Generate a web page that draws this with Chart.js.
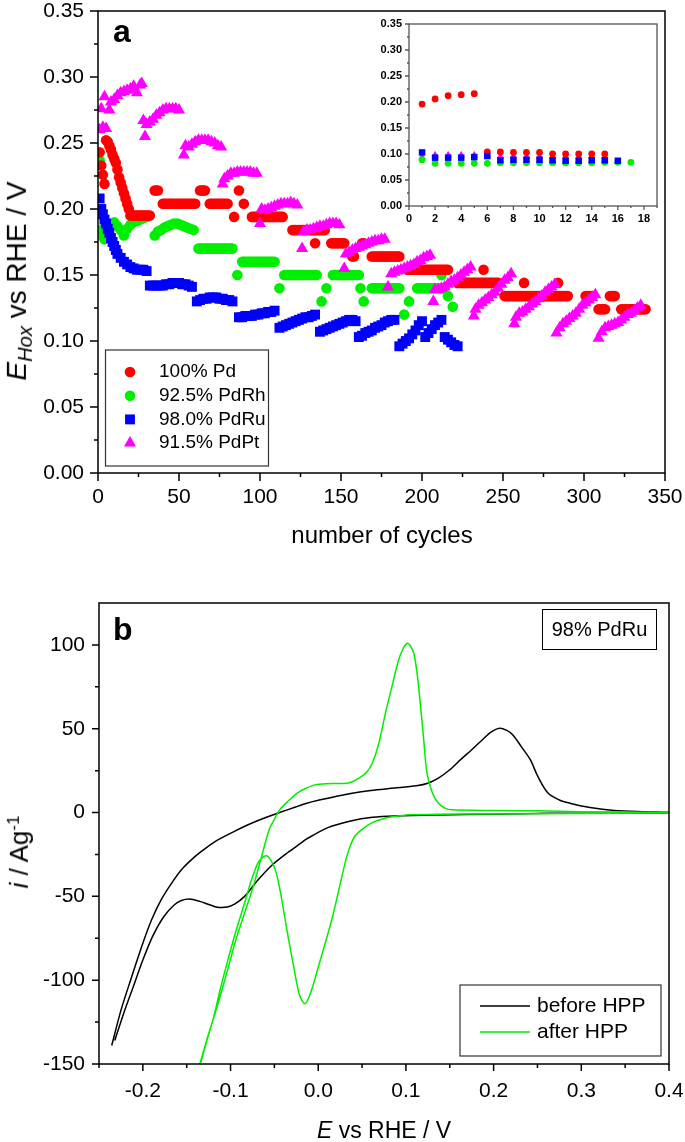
<!DOCTYPE html>
<html>
<head>
<meta charset="utf-8">
<script src="https://cdn.jsdelivr.net/npm/chart.js@4.4.1/dist/chart.umd.min.js"></script>
<style>
  body { margin: 0; background: #fff; }
  #page { position: relative; width: 685px; height: 1142px; overflow: hidden;
          font-family: 'Liberation Sans', Arial, sans-serif; color: #000; }
  canvas { position: absolute; }
  .txt { position: absolute; white-space: nowrap; line-height: 1; }
  .rot { transform: translate(-50%, -50%) rotate(-90deg); }
  .rot sub { font-size: 0.72em; vertical-align: -0.3em; }
  .rot sup { font-size: 0.65em; vertical-align: 0.55em; }
  #tag { position: absolute; left: 542px; top: 609px; width: 115px; height: 41px; box-sizing: border-box;
         border: 1.5px solid #000; font-size: 20px; display: flex; align-items: center; justify-content: center; }
</style>
</head>
<body>
<div id="page">
  <canvas id="cycles" width="685" height="560" style="left:0;top:0"></canvas>
  <canvas id="inset" width="305" height="224" style="left:360px;top:8px"></canvas>
  <canvas id="cv" width="685" height="582" style="left:0;top:560px"></canvas>

  <div class="txt" style="left:113px;top:15px;font-weight:bold;font-size:32px">a</div>
  <div class="txt" style="left:113px;top:613px;font-weight:bold;font-size:32px">b</div>
  <div class="txt rot" style="left:19px;top:281px;font-size:28px"><i>E</i><sub><i>Hox</i></sub> vs RHE / V</div>
  <div class="txt" style="left:382px;top:535px;font-size:24px;transform:translate(-50%,-50%)">number of cycles</div>
  <div class="txt rot" style="left:19px;top:852px;font-size:26px"><i>i</i> / Ag<sup>-1</sup></div>
  <div class="txt" style="left:384px;top:1130px;font-size:23px;transform:translate(-50%,-50%)"><i>E</i> vs RHE / V</div>
  <div id="tag">98% PdRu</div>
</div>

<script>
/* ---- panel a : cycles, [first cycle, last cycle, E] plateaus ---- */
const pdRuns = [
  [1,1,0.243],[2,2,0.233],[3,3,0.226],[4,4,0.219],
  [5,5,0.252],[6,6,0.251],[7,7,0.248],[8,8,0.245],[9,9,0.241],[10,10,0.238],[11,11,0.235],
  [12,12,0.230],[13,13,0.224],[14,14,0.220],[15,15,0.216],[16,16,0.212],[17,17,0.208],
  [18,18,0.204],[19,19,0.200],
  [20,32,0.195],[35,37,0.214],[40,60,0.204],[63,66,0.214],[69,80,0.204],[84,84,0.194],
  [87,87,0.214],[90,90,0.204],[95,114,0.194],[120,140,0.184],[134,134,0.174],[144,152,0.174],
  [157,158,0.164],[163,164,0.174],[169,186,0.164],[191,216,0.154],[222,247,0.144],
  [238,238,0.154],[251,290,0.134],[263,263,0.144],[284,284,0.144],[301,305,0.134],
  [309,313,0.124],[316,319,0.134],[323,338,0.124]
];
const rhRuns = [
  [1,1,0.237],[2,2,0.184],[3,3,0.179],[4,4,0.177],[6,6,0.182],[8,8,0.188],[10,10,0.190],
  [12,12,0.187],[14,14,0.184],[16,16,0.180],[18,18,0.185],[20,20,0.188],[22,22,0.190],
  [24,24,0.191],[26,26,0.192],[28,28,0.193],[30,30,0.194],
  [35,35,0.180],[37,37,0.183],[39,39,0.184],[41,41,0.186],[43,43,0.187],[45,45,0.188],
  [47,47,0.189],[49,49,0.189],[51,51,0.188],[53,53,0.187],[55,55,0.186],[57,57,0.185],[59,59,0.184],
  [62,83,0.170],[86,86,0.150],[89,109,0.160],[112,112,0.140],[115,135,0.150],[138,138,0.130],
  [141,141,0.140],[145,161,0.150],[162,162,0.140],[164,164,0.130],[169,186,0.140],
  [189,189,0.120],[192,192,0.130],[197,213,0.140],[212,212,0.150],[216,216,0.134],[219,219,0.126]
];
/* [cycle, E] */
const ruPoints = [
  [1,0.208],[2,0.200],[3,0.196],[4,0.192],[5,0.189],[6,0.185],[7,0.182],[8,0.178],[9,0.175],
  [10,0.172],[11,0.169],[12,0.166],[14,0.163],[16,0.160],[18,0.158],[20,0.156],[22,0.155],
  [24,0.154],[26,0.154],[28,0.154],[30,0.153],
  [32,0.142],[34,0.142],[36,0.142],[38,0.142],[40,0.142],[42,0.143],[44,0.143],[46,0.144],
  [48,0.144],[50,0.144],[52,0.143],[54,0.143],[56,0.142],[58,0.141],
  [61,0.130],[63,0.131],[65,0.132],[67,0.132],[69,0.133],[71,0.133],[73,0.133],[75,0.132],
  [77,0.132],[79,0.131],[81,0.131],[83,0.130],
  [87,0.118],[89,0.118],[91,0.119],[93,0.119],[95,0.119],[97,0.120],[99,0.120],[101,0.121],
  [103,0.121],[105,0.122],[107,0.122],[109,0.123],
  [112,0.110],[114,0.111],[116,0.112],[118,0.113],[120,0.114],[122,0.115],[124,0.116],
  [126,0.117],[128,0.118],[130,0.118],[132,0.119],[134,0.120],
  [137,0.107],[139,0.108],[141,0.109],[143,0.110],[145,0.111],[147,0.112],[149,0.113],
  [151,0.114],[153,0.115],[155,0.116],[157,0.116],[159,0.115],
  [161,0.103],[163,0.104],[165,0.106],[167,0.107],[169,0.108],[171,0.110],[173,0.111],
  [175,0.112],[177,0.114],[179,0.115],[181,0.116],[183,0.116],
  [186,0.096],[188,0.098],[190,0.100],[192,0.102],[194,0.105],[196,0.108],[198,0.112],[200,0.115],
  [202,0.103],[204,0.106],[206,0.109],[208,0.112],[210,0.114],[212,0.116],
  [214,0.103],[216,0.101],[218,0.099],[220,0.097],[222,0.096]
];
const ptPoints = [
  [1,0.260],[2,0.276],[3,0.262],[4,0.285],[5,0.261],[7,0.275],[8,0.281],[10,0.283],[12,0.286],
  [14,0.288],[16,0.289],[18,0.290],[20,0.291],[22,0.293],[24,0.288],[26,0.294],[27,0.295],
  [28,0.267],[29,0.255],[30,0.264],[32,0.266],[34,0.268],[36,0.271],[38,0.273],[40,0.275],
  [42,0.276],[44,0.276],[46,0.276],[48,0.276],[50,0.275],
  [53,0.241],[54,0.248],[56,0.247],[58,0.249],[60,0.251],[62,0.252],[64,0.252],[66,0.252],
  [68,0.252],[70,0.251],[72,0.250],[74,0.248],[76,0.247],
  [77,0.219],[78,0.223],[80,0.225],[82,0.227],[84,0.227],[86,0.228],[88,0.228],[90,0.228],
  [92,0.228],[94,0.228],[96,0.227],[98,0.227],
  [100,0.189],[101,0.200],[103,0.199],[105,0.200],[107,0.201],[109,0.202],[111,0.203],
  [113,0.204],[115,0.204],[117,0.204],[119,0.205],[121,0.204],[123,0.203],
  [126,0.170],[127,0.183],[129,0.184],[131,0.184],[133,0.185],[135,0.186],[137,0.187],
  [139,0.187],[141,0.188],[143,0.189],[145,0.189],[147,0.189],[149,0.188],
  [152,0.155],[153,0.166],[155,0.167],[157,0.169],[159,0.170],[161,0.171],[163,0.172],
  [165,0.173],[167,0.174],[169,0.175],[171,0.176],[173,0.176],[175,0.177],[177,0.177],
  [179,0.141],[181,0.151],[183,0.152],[185,0.153],[187,0.154],[189,0.155],[191,0.156],
  [193,0.157],[195,0.158],[197,0.160],[199,0.161],[201,0.163],[203,0.164],[205,0.165],
  [207,0.130],[208,0.139],[210,0.139],[212,0.140],[214,0.141],[216,0.143],[218,0.145],
  [220,0.146],[222,0.148],[224,0.150],[226,0.152],[228,0.154],[230,0.156],
  [232,0.119],[233,0.124],[235,0.127],[237,0.129],[239,0.131],[241,0.133],[243,0.135],
  [245,0.137],[247,0.140],[249,0.143],[251,0.146],[253,0.148],[255,0.151],
  [257,0.113],[258,0.118],[260,0.121],[262,0.122],[264,0.124],[266,0.126],[268,0.128],
  [270,0.130],[272,0.132],[274,0.134],[276,0.137],[278,0.139],[280,0.141],[282,0.143],
  [283,0.106],[285,0.110],[287,0.113],[289,0.115],[291,0.117],[293,0.119],[295,0.121],
  [297,0.124],[299,0.127],[301,0.129],[303,0.131],[305,0.133],[307,0.135],
  [309,0.102],[311,0.107],[313,0.110],[315,0.111],[317,0.112],[319,0.113],[321,0.114],
  [323,0.116],[325,0.118],[327,0.120],[329,0.121],[331,0.123],[333,0.125],[335,0.127]
];
const seriesLabels = ['100% Pd', '92.5% PdRh', '98.0% PdRu', '91.5% PdPt'];

/* inset: one value per cycle starting at cycle 1 */
const insetPd = [0.196,0.206,0.212,0.214,0.216,0.104,0.104,0.103,0.103,0.103,0.100,0.100,0.100,0.100,0.100];
const insetRh = [0.089,0.082,0.082,0.082,0.082,0.082,0.083,0.083,0.083,0.083,0.083,0.083,0.083,0.083,0.084,0.084,0.084];
const insetRu = [0.103,0.093,0.093,0.093,0.094,0.096,0.088,0.089,0.089,0.089,0.088,0.087,0.087,0.088,0.088,0.087];
const insetPt = [0.094,0.098,0.098,0.098,0.098,0.097,0.095,0.095,0.095,0.095,0.095,0.095,0.095,0.095,0.095];

/* ---- panel b : cyclic voltammograms, [E / V, i / A g-1] ---- */
const beforeHPP = [
  [-0.2355,-139],[-0.225,-118],[-0.214,-100],[-0.2,-78],[-0.19,-64],[-0.179,-52],[-0.165,-40.5],
  [-0.154,-33],[-0.14,-26],[-0.129,-21.5],[-0.114,-16.2],[-0.094,-10.8],[-0.08,-7.3],[-0.065,-4],
  [-0.044,0],[-0.025,3.5],[-0.014,5.4],[0.0,7.3],[0.02,9.6],[0.037,11.4],[0.06,13.2],[0.087,14.6],
  [0.112,16],[0.125,17.5],[0.137,20.5],[0.15,25.5],[0.162,31.4],[0.175,37.5],[0.187,43.3],
  [0.197,48],[0.207,50.3],[0.215,49],[0.222,46.3],[0.232,39],[0.242,31.4],[0.25,22],[0.262,11.6],
  [0.275,7.5],[0.287,5.6],[0.31,3],[0.3375,1.2],[0.37,0.5],[0.4,0.2],
  [0.4,-0.2],[0.3,-0.4],[0.262,-0.4],[0.2,-1],[0.137,-1.4],[0.087,-2],[0.062,-2.8],[0.037,-5],
  [0.011,-9],[-0.014,-16],[-0.019,-18],[-0.035,-24],[-0.054,-32],[-0.07,-41],[-0.084,-50],
  [-0.095,-54.5],[-0.104,-56.4],[-0.115,-56.5],[-0.124,-55],[-0.135,-53],[-0.147,-51.6],
  [-0.156,-52.5],[-0.164,-55],[-0.176,-62],[-0.189,-74],[-0.2,-88],[-0.211,-104],[-0.222,-120],
  [-0.232,-136]
];
const afterHPP = [
  [-0.135,-150],[-0.125,-132],[-0.114,-113.6],[-0.104,-95],[-0.094,-76],[-0.084,-60],[-0.074,-44],
  [-0.065,-27],[-0.056,-10.3],[-0.05,-4],[-0.044,1.6],[-0.034,7],[-0.024,11.6],[-0.014,14.5],
  [-0.004,16.5],[0.01,17.2],[0.026,17.3],[0.036,17.8],[0.0465,20.5],[0.055,24],[0.0616,29.4],
  [0.069,41],[0.0766,59.2],[0.084,75],[0.0917,91],[0.097,98],[0.1017,101],[0.105,99.5],
  [0.109,95],[0.113,82],[0.1167,63.2],[0.12,45],[0.124,23.5],[0.13,12],[0.137,5.6],[0.145,2.5],
  [0.152,1.6],[0.2,1.2],[0.25,1],[0.3,0.5],[0.4,0],
  [0.4,-0.2],[0.3,-0.5],[0.2,-0.8],[0.137,-1],[0.1,-1.5],[0.087,-2.4],[0.075,-3.5],[0.0616,-6],
  [0.05,-10],[0.0415,-14.3],[0.0365,-20],[0.0315,-28.2],[0.024,-45],[0.0164,-62],[0.009,-76],
  [0.0014,-89.8],[-0.0087,-107.6],[-0.0152,-114],[-0.0213,-109],[-0.0287,-89.8],[-0.034,-75],
  [-0.039,-60],[-0.044,-45],[-0.0489,-34.2],[-0.054,-28.5],[-0.0589,-25.8],[-0.064,-27],
  [-0.0689,-30.2],[-0.076,-40],[-0.084,-54],[-0.094,-71],[-0.104,-89.8],[-0.112,-106],
  [-0.119,-121.6],[-0.127,-136],[-0.134,-149.4]
];
const cvLabels = ['before HPP', 'after HPP'];

/* ---- tick values ---- */
const cycleTicks = [0, 50, 100, 150, 200, 250, 300, 350];
const cycleMinor = [25, 75, 125, 175, 225, 275, 325];
const eTicks = [0, 0.05, 0.10, 0.15, 0.20, 0.25, 0.30, 0.35];
const eMinor = [0.025, 0.075, 0.125, 0.175, 0.225, 0.275, 0.325];
const insetXTicks = [0, 2, 4, 6, 8, 10, 12, 14, 16, 18];
const insetXMinor = [1, 3, 5, 7, 9, 11, 13, 15, 17, 19];
const cvXTicks = [-0.2, -0.1, 0.0, 0.1, 0.2, 0.3, 0.4];
const cvXMinor = [-0.25, -0.15, -0.05, 0.05, 0.15, 0.25, 0.35];
const cvYTicks = [-150, -100, -50, 0, 50, 100];
const cvYMinor = [-125, -75, -25, 25, 75];

const FONT = "'Liberation Sans', Arial, sans-serif";
Chart.defaults.font.family = FONT;
Chart.defaults.color = '#000';

const runPoints = runs => runs.flatMap(([a, b, e]) => {
  const pts = [];
  for (let c = a; c <= b; c++) pts.push({ x: c, y: e });
  return pts;
});
const pairPoints = list => list.map(([x, y]) => ({ x, y }));
const seqPoints = vals => vals.map((y, k) => ({ x: k + 1, y }));

function drawMarker(ctx, style, x, y, r) {
  ctx.beginPath();
  if (style === 'rect') {
    const s = Math.SQRT1_2 * r;
    ctx.rect(x - s, y - s, 2 * s, 2 * s);
  } else if (style === 'triangle') {
    ctx.moveTo(x, y - r);
    ctx.lineTo(x + r * 0.866, y + r * 0.5);
    ctx.lineTo(x - r * 0.866, y + r * 0.5);
    ctx.closePath();
  } else {
    ctx.arc(x, y, r, 0, Math.PI * 2);
  }
  ctx.fill();
}

/* frame box + outward major/minor ticks */
const framePlugin = {
  id: 'frame',
  afterDraw(chart, args, o) {
    const { ctx, chartArea: a, scales } = chart;
    ctx.save();
    ctx.strokeStyle = o.color;
    ctx.lineWidth = o.width;
    ctx.strokeRect(a.left, a.top, a.right - a.left, a.bottom - a.top);
    ctx.beginPath();
    const xt = (vals, len) => vals.forEach(v => {
      const px = scales.x.getPixelForValue(v);
      ctx.moveTo(px, a.bottom); ctx.lineTo(px, a.bottom + len);
    });
    const yt = (vals, len) => vals.forEach(v => {
      const py = scales.y.getPixelForValue(v);
      ctx.moveTo(a.left, py); ctx.lineTo(a.left - len, py);
    });
    xt(o.xMajor, o.major); xt(o.xMinor, o.minor);
    yt(o.yMajor, o.major); yt(o.yMinor, o.minor);
    ctx.stroke();
    ctx.restore();
  }
};

/* boxed legend placed inside the plot */
const boxLegend = {
  id: 'boxLegend',
  afterDraw(chart, args, o) {
    if (!o.x) return;
    const ctx = chart.ctx;
    const items = chart.data.datasets.slice().sort((p, q) => p.legendRank - q.legendRank);
    ctx.save();
    ctx.strokeStyle = o.border;
    ctx.lineWidth = o.borderWidth;
    ctx.strokeRect(o.x, o.y, o.w, o.h);
    ctx.font = o.font;
    ctx.textBaseline = 'middle';
    items.forEach((ds, k) => {
      const cy = o.row + k * o.gap;
      if (ds.showLine) {
        ctx.strokeStyle = ds.borderColor;
        ctx.lineWidth = 1.5;
        ctx.beginPath();
        ctx.moveTo(o.markX - 25, cy); ctx.lineTo(o.markX + 25, cy);
        ctx.stroke();
      } else {
        ctx.fillStyle = ds.backgroundColor;
        drawMarker(ctx, ds.pointStyle, o.markX, cy, ds.pointRadius);
      }
      ctx.fillStyle = '#000';
      ctx.fillText(ds.label, o.textX, cy);
    });
    ctx.restore();
  }
};

function axis(min, max, ticks, fmt, size, pad, fixed, bold) {
  return {
    type: 'linear', min, max,
    grid: { display: false, drawTicks: false },
    border: { display: false },
    afterBuildTicks: s => { s.ticks = ticks.map(v => ({ value: v })); },
    afterFit: s => {
      if (s.isHorizontal()) { s.height = fixed; s.paddingLeft = 0; s.paddingRight = 0; }
      else { s.width = fixed; s.paddingTop = 0; s.paddingBottom = 0; }
    },
    ticks: { padding: pad, autoSkip: false, maxRotation: 0, color: '#000',
             font: { size, weight: bold ? 'bold' : 'normal' }, callback: v => fmt(v) }
  };
}

const scatterSet = (label, data, color, style, r, rank) => ({
  label, data, pointStyle: style, pointRadius: r, pointHoverRadius: r,
  backgroundColor: color, borderWidth: 0, legendRank: rank
});

/* ---- panel a ---- */
new Chart(document.getElementById('cycles'), {
  type: 'scatter',
  data: {
    datasets: [
      scatterSet(seriesLabels[3], pairPoints(ptPoints), '#ff00ff', 'triangle', 7, 3),
      scatterSet(seriesLabels[2], pairPoints(ruPoints), '#0000ff', 'rect', 7, 2),
      scatterSet(seriesLabels[0], runPoints(pdRuns), '#ff0000', 'circle', 5.3, 0),
      scatterSet(seriesLabels[1], runPoints(rhRuns), '#00ee00', 'circle', 5.3, 1)
    ]
  },
  options: {
    responsive: false, animation: false, devicePixelRatio: 1,
    layout: { padding: { top: 11, right: 20, left: 0, bottom: 0 } },
    scales: {
      x: axis(0, 350, cycleTicks, v => String(v), 21, 12, 87),
      y: axis(0, 0.35, eTicks, v => v.toFixed(2), 21, 14, 98)
    },
    plugins: {
      legend: { display: false }, tooltip: { enabled: false },
      frame: { color: '#000', width: 1.5, xMajor: cycleTicks, xMinor: cycleMinor,
               yMajor: eTicks, yMinor: eMinor, major: 8, minor: 4 },
      boxLegend: { x: 105.5, y: 350, w: 163, h: 116, border: '#333', borderWidth: 1.2,
                   font: '19px ' + FONT, row: 372, gap: 23.7, markX: 130, textX: 159 }
    }
  },
  plugins: [framePlugin, boxLegend]
});

/* ---- panel a inset ---- */
new Chart(document.getElementById('inset'), {
  type: 'scatter',
  data: {
    datasets: [
      scatterSet(seriesLabels[2], seqPoints(insetRu), '#0000ff', 'rect', 4.6, 2),
      scatterSet(seriesLabels[0], seqPoints(insetPd), '#ff0000', 'circle', 3.4, 0),
      scatterSet(seriesLabels[1], seqPoints(insetRh), '#00ee00', 'circle', 3.4, 1),
      scatterSet(seriesLabels[3], seqPoints(insetPt), '#ff00ff', 'triangle', 4.2, 3)
    ]
  },
  options: {
    responsive: false, animation: false, devicePixelRatio: 1,
    layout: { padding: { top: 16, right: 8, left: 0, bottom: 0 } },
    scales: {
      x: axis(0, 19, insetXTicks, v => String(v), 11, 6, 26, true),
      y: axis(0, 0.35, eTicks, v => v.toFixed(2), 11, 7, 49, true)
    },
    plugins: {
      legend: { display: false }, tooltip: { enabled: false },
      frame: { color: '#555', width: 1.3, xMajor: insetXTicks, xMinor: insetXMinor,
               yMajor: eTicks, yMinor: eMinor, major: 4, minor: 2 }
    }
  },
  plugins: [framePlugin]
});

/* ---- panel b ---- */
const lineSet = (label, data, color, rank) => ({
  label, data: pairPoints(data), showLine: true, pointRadius: 0, borderColor: color,
  backgroundColor: color, borderWidth: 1.5, tension: 0.3, fill: false, legendRank: rank
});

new Chart(document.getElementById('cv'), {
  type: 'scatter',
  data: {
    datasets: [
      lineSet(cvLabels[1], afterHPP, '#00ee00', 1),
      lineSet(cvLabels[0], beforeHPP, '#000000', 0)
    ]
  },
  options: {
    responsive: false, animation: false, devicePixelRatio: 1,
    layout: { padding: { top: 43, right: 16, left: 0, bottom: 0 } },
    scales: {
      x: axis(-0.25, 0.4, cvXTicks, v => v.toFixed(1), 21, 15, 78),
      y: axis(-150, 125, cvYTicks, v => String(v), 21, 14, 99)
    },
    plugins: {
      legend: { display: false }, tooltip: { enabled: false },
      frame: { color: '#000', width: 1.5, xMajor: cvXTicks, xMinor: cvXMinor,
               yMajor: cvYTicks, yMinor: cvYMinor, major: 7, minor: 4 },
      boxLegend: { x: 460, y: 425, w: 201, h: 71, border: '#333', borderWidth: 1.2,
                   font: '21px ' + FONT, row: 446, gap: 26, markX: 505, textX: 537 }
    }
  },
  plugins: [framePlugin, boxLegend]
});
</script>
</body>
</html>
